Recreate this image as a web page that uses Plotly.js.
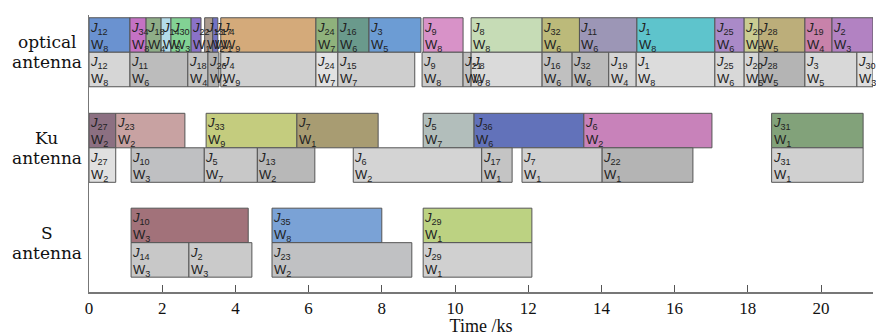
<!DOCTYPE html>
<html><head><meta charset="utf-8">
<script src="https://cdn.plot.ly/plotly-3.0.1.min.js"></script>
<style>html,body{margin:0;padding:0;background:#fff}#chart{width:876px;height:336px}</style>
</head><body><div id="chart"></div>
<script>
// Rows: antenna labels (two lines each)
const antennaLine1 = ["optical", "Ku", "S"];
const antennaLine2 = ["antenna", "antenna", "antenna"];

// Optical antenna – upper (colored) row
const optTopJob   = [12, 34, 18, 14, 30, 22, 13, 17, 4, 24, 16, 3, 9, 8, 32, 11, 1, 25, 20, 28, 19, 2];
const optTopWin   = [8, 8, 4, 3, 3, 1, 2, 1, 9, 7, 6, 5, 8, 8, 6, 6, 8, 6, 5, 5, 4, 3];
const optTopStart = [0, 1.12, 1.56, 1.97, 2.24, 2.79, 3.16, 3.38, 3.6, 6.2, 6.8, 7.65, 9.13, 10.44, 12.38, 13.4, 14.97, 17.1, 17.9, 18.3, 19.56, 20.3];
const optTopEnd   = [1.12, 1.56, 1.97, 2.24, 2.79, 3.06, 3.38, 3.52, 6.2, 6.8, 7.65, 9.07, 10.22, 12.38, 13.4, 14.97, 17.1, 17.9, 18.3, 19.56, 20.3, 21.42];
const optTopColor = ["#6a92d0", "#c472c4", "#8fae88", "#b4dcea", "#82d294", "#8a72c8", "#aa9a8e", "#7272c4", "#d4aa7a", "#8fb27c", "#6a9a8c", "#6c9cd4", "#d892c8", "#c6dcb6", "#bcba7a", "#9c96b6", "#5ec4cc", "#aa8ac8", "#cacc92", "#bcae7a", "#c882aa", "#b282c2"];

// Optical antenna – lower (grey) row
const optBotJob   = [12, 11, 18, 26, 4, 24, 15, 9, 21, 8, 16, 32, 19, 1, 25, 20, 28, 3, 30];
const optBotWin   = [8, 6, 4, 2, 9, 7, 7, 8, 8, 8, 6, 6, 4, 8, 6, 5, 5, 5, 3];
const optBotStart = [0, 1.12, 2.7, 3.25, 3.6, 6.2, 6.8, 9.1, 10.22, 10.44, 12.38, 13.2, 14.2, 14.95, 17.1, 17.9, 18.3, 19.56, 20.98];
const optBotEnd   = [1.12, 2.7, 3.25, 3.55, 6.2, 6.8, 8.9, 10.22, 10.44, 12.38, 13.2, 14.2, 14.95, 17.1, 17.9, 18.3, 19.56, 20.98, 21.42];
const optBotColor = ["#d6d6d6", "#bcbcbc", "#c4c4c4", "#b2b2b2", "#d0d0d0", "#e2e2e2", "#cecece", "#cacaca", "#c2c2c2", "#dadada", "#c0c0c0", "#bababa", "#d4d4d4", "#dcdcdc", "#d8d8d8", "#d6d6d6", "#b4b4b4", "#d8d8d8", "#dedede"];

// Ku antenna – upper row
const kuTopJob   = [27, 23, 33, 7, 5, 36, 6, 31];
const kuTopWin   = [2, 2, 9, 1, 7, 6, 2, 1];
const kuTopStart = [0, 0.73, 3.2, 5.68, 9.13, 10.52, 13.52, 18.65];
const kuTopEnd   = [0.73, 2.62, 5.68, 7.9, 10.52, 13.52, 17.02, 21.15];
const kuTopColor = ["#8c7082", "#c8a2a2", "#c4cc7e", "#a89c72", "#b2bebb", "#6272ba", "#c882ba", "#82a27a"];

// Ku antenna – lower row
const kuBotJob   = [27, 10, 5, 13, 6, 17, 7, 22, 31];
const kuBotWin   = [2, 3, 7, 2, 2, 1, 1, 1, 1];
const kuBotStart = [0, 1.15, 3.15, 4.6, 7.22, 10.73, 11.83, 14.02, 18.65];
const kuBotEnd   = [0.73, 3.15, 4.6, 6.17, 10.73, 11.56, 14.02, 16.5, 21.15];
const kuBotColor = ["#e0e0e0", "#bfc0c2", "#c8c8c8", "#b8b8b8", "#d4d4d4", "#c4c4c4", "#d0d0d0", "#b4b4b4", "#d0d0d0"];

// S antenna – upper row
const sTopJob   = [10, 35, 29];
const sTopWin   = [3, 8, 1];
const sTopStart = [1.15, 5.0, 9.13];
const sTopEnd   = [4.35, 8.0, 12.1];
const sTopColor = ["#a2727a", "#7aa2d6", "#bcd282"];

// S antenna – lower row
const sBotJob   = [14, 2, 23, 29];
const sBotWin   = [3, 3, 2, 1];
const sBotStart = [1.15, 2.73, 5.0, 9.13];
const sBotEnd   = [2.73, 4.45, 8.82, 12.1];
const sBotColor = ["#c8c8c8", "#cacaca", "#c0c1c3", "#d0d0d0"];

const xTicks = [0, 2, 4, 6, 8, 10, 12, 14, 16, 18, 20];

// lane positions (layout only)
const rows = [
  {job: optTopJob, win: optTopWin, s: optTopStart, e: optTopEnd, c: optTopColor, lane: 0},
  {job: optBotJob, win: optBotWin, s: optBotStart, e: optBotEnd, c: optBotColor, lane: 1},
  {job: kuTopJob, win: kuTopWin, s: kuTopStart, e: kuTopEnd, c: kuTopColor, lane: 2.77},
  {job: kuBotJob, win: kuBotWin, s: kuBotStart, e: kuBotEnd, c: kuBotColor, lane: 3.77},
  {job: sTopJob, win: sTopWin, s: sTopStart, e: sTopEnd, c: sTopColor, lane: 5.52},
  {job: sBotJob, win: sBotWin, s: sBotStart, e: sBotEnd, c: sBotColor, lane: 6.52}
];
const antennaCenters = [0.5, 3.27, 6.02];

const traces = [];
const annotations = [];
rows.forEach(r => {
  traces.push({
    type: 'bar', orientation: 'h',
    base: r.s,
    x: r.s.map((v, i) => r.e[i] - v),
    y: r.s.map(() => r.lane),
    width: 1,
    marker: {color: r.c, line: {color: '#555', width: 1}},
    hoverinfo: 'skip', showlegend: false
  });
  r.s.forEach((v, i) => {
    annotations.push({
      x: v, y: r.lane - 0.5, xref: 'x', yref: 'y',
      xanchor: 'left', yanchor: 'top', xshift: -1, yshift: 0,
      align: 'left', showarrow: false,
      text: '<i>J</i><sub>' + r.job[i] + '</sub><br>W<sub>' + r.win[i] + '</sub>',
      font: {family: 'Liberation Sans, Arial, sans-serif', size: 13, color: '#222'}
    });
  });
});

const labelFont = {family: 'DejaVu Serif, Liberation Serif, serif', size: 17, color: '#111'};
antennaCenters.forEach((c, i) => {
  annotations.push({x: -0.0536, xref: 'paper', y: c, yref: 'y', xanchor: 'center', yanchor: 'middle',
    yshift: 10, showarrow: false, text: antennaLine1[i], font: labelFont});
  annotations.push({x: -0.0536, xref: 'paper', y: c, yref: 'y', xanchor: 'center', yanchor: 'middle',
    yshift: -10, showarrow: false, text: antennaLine2[i], font: labelFont});
});

const layout = {
  width: 876, height: 336,
  margin: {l: 89, r: 3, t: 15, b: 44},
  paper_bgcolor: '#fff', plot_bgcolor: '#fff',
  barmode: 'overlay',
  xaxis: {
    range: [0, 21.42], tickvals: xTicks, ticktext: xTicks.map(String),
    ticks: 'inside', ticklen: 7, tickcolor: '#555', tickwidth: 1,
    showline: true, linecolor: '#777', linewidth: 1.5, showgrid: false, zeroline: false,
    tickfont: {family: 'Liberation Serif, DejaVu Serif, serif', size: 17, color: '#111'},
    title: {text: 'Time /ks', font: {family: 'Liberation Serif, DejaVu Serif, serif', size: 18, color: '#111'}, standoff: 2}
  },
  yaxis: {
    range: [7.45, -0.58],
    showticklabels: false, ticks: '',
    showline: true, linecolor: '#777', linewidth: 1.5, showgrid: false, zeroline: false
  },
  annotations: annotations
};

Plotly.newPlot('chart', traces, layout, {displayModeBar: false, staticPlot: true});
</script></body></html>
